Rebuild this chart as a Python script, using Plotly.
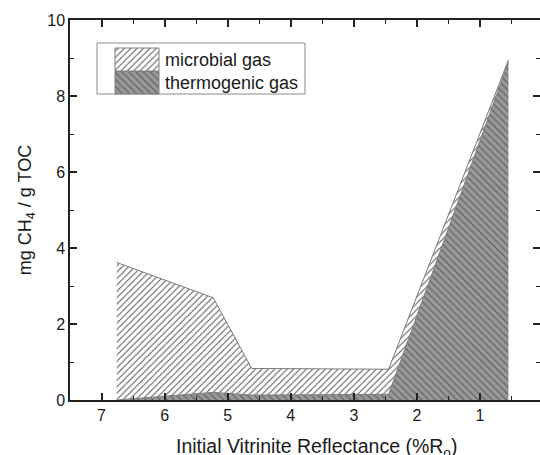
import plotly.graph_objects as go

# Data
ro = [6.76, 5.23, 4.62, 2.45, 0.55]            # initial vitrinite reflectance (%Ro)
thermogenic = [0.0, 0.20, 0.13, 0.15, 8.90]     # mg CH4 / g TOC
microbial = [3.62, 2.49, 0.70, 0.66, 0.05]      # mg CH4 / g TOC (stacked on thermogenic)
x_ticks = [7, 6, 5, 4, 3, 2, 1, 0]
y_ticks = [0, 2, 4, 6, 8, 10]
legend_names = ["microbial gas", "thermogenic gas"]
x_title = "Initial Vitrinite Reflectance (%R<sub>o</sub>)"
y_title = "mg CH<sub>4</sub> / g TOC"

total = [t + m for t, m in zip(thermogenic, microbial)]

FONT = "Arial, 'Liberation Sans', Helvetica, sans-serif"
AX = "#222222"

micro_pat = dict(shape="/", bgcolor="white", fgcolor="#555555", size=4.5, solidity=0.22, fillmode="replace")
thermo_pat = dict(shape="\\", bgcolor="#989898", fgcolor="#606060", size=5, solidity=0.22, fillmode="replace")

fig = go.Figure()
fig.add_trace(go.Scatter(x=ro, y=thermogenic, mode="lines", fill="tozeroy",
                         line=dict(color="#7a7a7a", width=1), fillpattern=thermo_pat,
                         name=legend_names[1], showlegend=False, hoverinfo="skip"))
fig.add_trace(go.Scatter(x=ro, y=total, mode="lines", fill="tonexty",
                         line=dict(color="#7a7a7a", width=1), fillpattern=micro_pat,
                         name=legend_names[0], showlegend=False, hoverinfo="skip"))

# Custom legend (drawn in pixel-like overlay axes)
L, R, T, B = 70, 540, 20, 400
box = (97, 43, 305, 94)
sw_x0, sw_x1 = 115, 159
rows = [(48, 71, micro_pat, legend_names[0]), (71.5, 94, thermo_pat, legend_names[1])]
for y0, y1, pat, name in rows:
    fig.add_trace(go.Scatter(x=[sw_x0, sw_x1, sw_x1, sw_x0, sw_x0], y=[y0, y0, y1, y1, y0],
                             mode="lines", fill="toself", fillpattern=pat,
                             line=dict(color="#808080", width=1),
                             xaxis="x2", yaxis="y2", showlegend=False, hoverinfo="skip"))
    fig.add_annotation(x=sw_x1 + 4, y=(y0 + y1) / 2, xref="x2", yref="y2", text=name,
                       showarrow=False, xanchor="left", yanchor="middle",
                       font=dict(family=FONT, size=18, color="#1a1a1a"))
fig.add_shape(type="rect", x0=box[0], y0=box[1], x1=box[2], y1=box[3], xref="x2", yref="y2",
              line=dict(color="#8a8a8a", width=1), fillcolor="rgba(0,0,0,0)", layer="below")

# x-axis title placed as a paper annotation
fig.add_annotation(x=(316 - L) / (R - L), y=(B - 447) / (B - T), xref="paper", yref="paper",
                   text=x_title, showarrow=False, xanchor="center", yanchor="middle",
                   font=dict(family=FONT, size=19.5, color="#1a1a1a"))

fig.update_layout(
    width=540, height=455,
    margin=dict(l=L, r=540 - R, t=T, b=455 - B),
    paper_bgcolor="white", plot_bgcolor="white",
    font=dict(family=FONT, size=16, color="#1a1a1a"),
    xaxis=dict(range=[7.5, 0.05], tickvals=x_ticks, ticktext=[str(v) for v in x_ticks],
               showline=True, linecolor=AX, linewidth=1.5, mirror="allticks",
               ticks="inside", ticklen=7, tickwidth=1.5, tickcolor=AX,
               minor=dict(dtick=0.5, tick0=0, ticks="inside", ticklen=4, tickwidth=1.2, tickcolor=AX),
               showgrid=False, zeroline=False, automargin=False,
               tickfont=dict(size=16)),
    yaxis=dict(range=[0, 10], tickvals=y_ticks,
               showline=True, linecolor=AX, linewidth=1.5, mirror="allticks",
               ticks="inside", ticklen=7, tickwidth=1.5, tickcolor=AX,
               minor=dict(dtick=1, tick0=0, ticks="inside", ticklen=4, tickwidth=1.2, tickcolor=AX),
               showgrid=False, zeroline=False, automargin=False,
               title=dict(text=y_title, font=dict(size=18), standoff=11),
               tickfont=dict(size=16)),
    xaxis2=dict(range=[L, R], overlaying="x", visible=False, fixedrange=True),
    yaxis2=dict(range=[B, T], overlaying="y", visible=False, fixedrange=True),
    showlegend=False,
)

fig.write_html("out.html")
